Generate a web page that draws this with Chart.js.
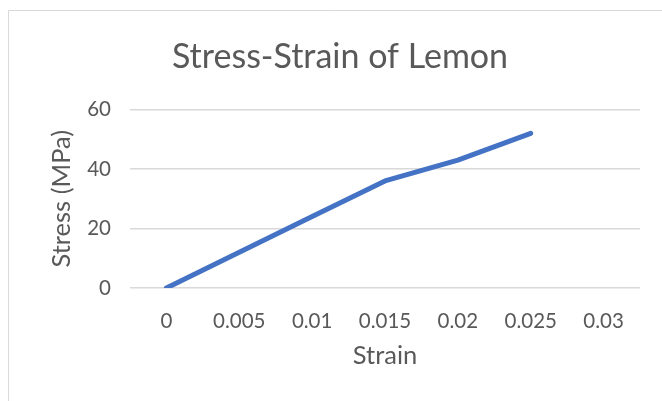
<!DOCTYPE html>
<html>
<head>
<meta charset="utf-8">
<script src="https://cdn.jsdelivr.net/npm/chart.js@4/dist/chart.umd.min.js"></script>
<style>
  html, body { margin: 0; padding: 0; background: #ffffff; }
  canvas { display: block; }
</style>
</head>
<body>
<canvas id="chart" width="662" height="401"></canvas>
<script>
// Strain categories along the bottom axis
const strainLabels = ['0', '0.005', '0.01', '0.015', '0.02', '0.025', '0.03'];
// Measured stress at each strain (MPa); no reading at 0.03
const stressValues = [0, 12, 24, 36, 43, 52, null];
// Stress axis ticks
const stressTicks = [0, 20, 40, 60];

const textColor = '#595959';
const gridColor = '#d9d9d9';
const fontFamily = 'Lato, "Open Sans", sans-serif';

// Thin frame around the chart (top and left edges)
const framePlugin = {
  id: 'frame',
  beforeDraw(chart) {
    const ctx = chart.ctx;
    ctx.save();
    ctx.fillStyle = '#ffffff';
    ctx.fillRect(0, 0, chart.width, chart.height);
    ctx.strokeStyle = '#d9d9d9';
    ctx.lineWidth = 1;
    ctx.beginPath();
    ctx.moveTo(8.5, chart.height);
    ctx.lineTo(8.5, 10.5);
    ctx.lineTo(chart.width, 10.5);
    ctx.stroke();
    ctx.restore();
  }
};

new Chart(document.getElementById('chart'), {
  type: 'line',
  data: {
    labels: strainLabels,
    datasets: [{
      label: 'Stress',
      data: stressValues,
      borderColor: '#4472C4',
      backgroundColor: '#4472C4',
      borderWidth: 5,
      borderCapStyle: 'round',
      borderJoinStyle: 'round',
      pointRadius: 0,
      tension: 0,
      fill: false
    }]
  },
  options: {
    responsive: false,
    animation: false,
    devicePixelRatio: 1,
    layout: { padding: { left: 40, right: 22, top: 0, bottom: 0 } },
    plugins: {
      legend: { display: false },
      tooltip: { enabled: false },
      title: {
        display: true,
        text: 'Stress-Strain of Lemon',
        color: textColor,
        font: { family: fontFamily, size: 34, weight: 'normal' },
        padding: { top: 36.6, bottom: 32.1 }
      }
    },
    scales: {
      x: {
        offset: true,
        grid: { display: false },
        border: { display: false },
        ticks: {
          color: textColor,
          font: { family: fontFamily, size: 20.5 },
          padding: 13,
          maxRotation: 0,
          autoSkip: false
        },
        title: {
          display: true,
          text: 'Strain',
          color: textColor,
          font: { family: fontFamily, size: 25.5 },
          padding: { top: 0, bottom: 29.7 }
        },
        afterFit(scale) { scale.height = 113; }
      },
      y: {
        min: 0,
        max: 60,
        afterBuildTicks(scale) {
          scale.ticks = stressTicks.map(v => ({ value: v }));
        },
        grid: { color: gridColor, lineWidth: 1.5, drawTicks: false },
        border: { display: false },
        ticks: {
          color: textColor,
          font: { family: fontFamily, size: 20.5 },
          padding: 19
        },
        title: {
          display: true,
          text: 'Stress (MPa)',
          color: textColor,
          font: { family: fontFamily, size: 25.5 },
          padding: { top: 6.7, bottom: 0 }
        },
        afterFit(scale) { scale.width = 90; }
      }
    }
  },
  plugins: [framePlugin]
});
</script>
</body>
</html>
